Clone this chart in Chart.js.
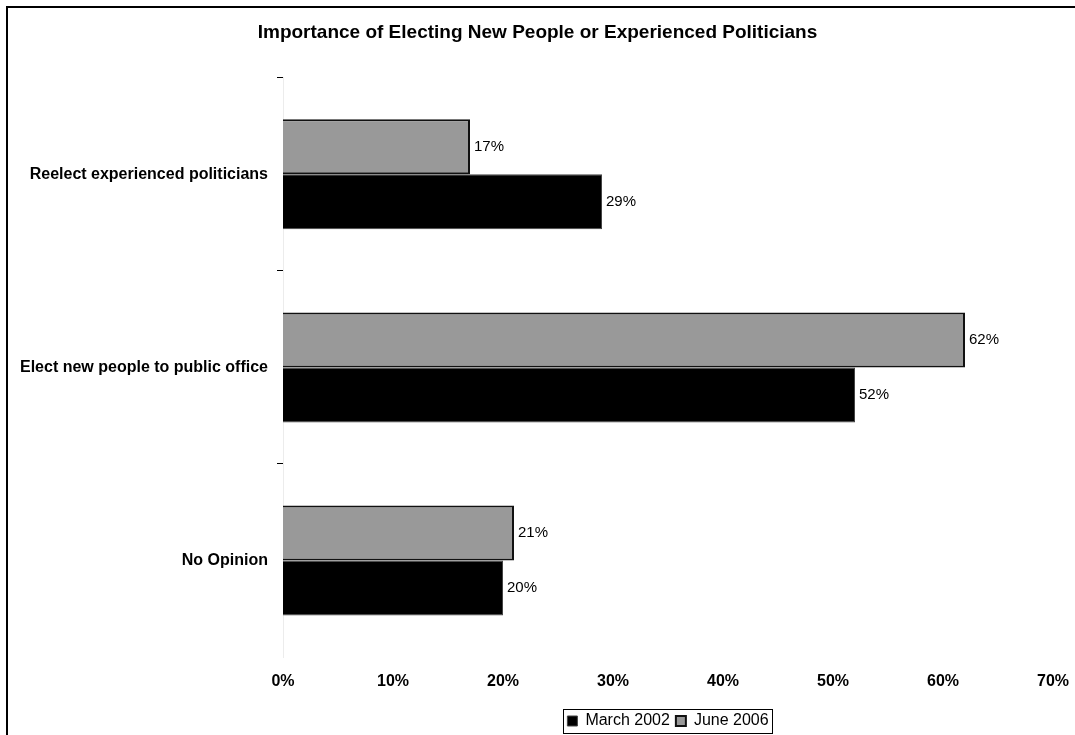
<!DOCTYPE html>
<html>
<head>
<meta charset="utf-8">
<script src="https://cdn.jsdelivr.net/npm/chart.js@4/dist/chart.umd.min.js"></script>
<style>
  html, body { margin: 0; padding: 0; background: #fff; overflow: hidden; }
  #wrap { position: relative; width: 1075px; height: 739px; }
</style>
</head>
<body>
<div id="wrap"><canvas id="chart"></canvas></div>
<script>
// Data
const categories = ['Reelect experienced politicians', 'Elect new people to public office', 'No Opinion'];
const march2002 = [29, 52, 20];
const june2006 = [17, 62, 21];
const xTicks = [0, 10, 20, 30, 40, 50, 60, 70];

const FONT = 'Liberation Sans, Arial, Helvetica, sans-serif';

// white page + frame lines on top and left
const framePlugin = {
    id: 'frame',
    beforeDraw(chart) {
        const ctx = chart.ctx;
        ctx.save();
        ctx.fillStyle = '#fff';
        ctx.fillRect(0, 0, chart.width, chart.height);
        ctx.fillStyle = '#000';
        ctx.fillRect(6, 6, chart.width, 2);
        ctx.fillRect(6, 6, 2, chart.height);
        ctx.restore();
    },
    afterDraw(chart) {
        // box round the legend
        const boxes = chart.legend.legendHitBoxes;
        if (!boxes || !boxes.length) return;
        const left = Math.min(...boxes.map(b => b.left)) - 4;
        const right = Math.max(...boxes.map(b => b.left + b.width)) + 4;
        const top = boxes[0].top - 4;
        const bottom = boxes[0].top + boxes[0].height + 4;
        const ctx = chart.ctx;
        ctx.save();
        ctx.strokeStyle = '#000';
        ctx.lineWidth = 1;
        ctx.strokeRect(Math.round(left) + 0.5, Math.round(top) + 0.5, Math.round(right - left), Math.round(bottom - top));
        ctx.restore();
    }
};

// value labels at the end of each bar
const valueLabels = {
    id: 'valueLabels',
    afterDatasetsDraw(chart) {
        const ctx = chart.ctx;
        ctx.save();
        ctx.font = '15px ' + FONT;
        ctx.fillStyle = '#000';
        ctx.textAlign = 'left';
        ctx.textBaseline = 'middle';
        chart.data.datasets.forEach((ds, i) => {
            chart.getDatasetMeta(i).data.forEach((bar, j) => {
                ctx.fillText(ds.data[j] + '%', bar.x + 4, bar.y);
            });
        });
        ctx.restore();
    }
};

const ctx = document.getElementById('chart').getContext('2d');
new Chart(ctx, {
    type: 'bar',
    data: {
        labels: categories,
        datasets: [
            {
                label: 'June 2006',
                data: june2006,
                backgroundColor: '#999999',
                borderColor: '#111',
                borderWidth: 2,
                barPercentage: 1,
                categoryPercentage: 0.57
            },
            {
                label: 'March 2002',
                data: march2002,
                backgroundColor: '#000000',
                borderColor: '#444',
                borderWidth: 1,
                barPercentage: 1,
                categoryPercentage: 0.57
            }
        ]
    },
    options: {
        indexAxis: 'y',
        responsive: true,
        maintainAspectRatio: false,
        animation: false,
        layout: { padding: 0 },
        plugins: {
            title: {
                display: true,
                text: 'Importance of Electing New People or Experienced Politicians',
                color: '#000',
                font: { family: FONT, size: 19, weight: 'bold' },
                padding: { top: 21, bottom: 34 }
            },
            legend: {
                position: 'bottom',
                fullSize: false,
                reverse: true,
                labels: {
                    color: '#000',
                    font: { family: FONT, size: 16 },
                    boxWidth: 10,
                    boxHeight: 10,
                    padding: 6
                }
            },
            tooltip: { enabled: false }
        },
        scales: {
            x: {
                min: 0,
                max: 70,
                afterBuildTicks: (scale) => {
                    scale.ticks = xTicks.map(v => ({ value: v }));
                },
                afterFit: (scale) => {
                    scale.height = 50;
                    scale.paddingLeft = 0;
                    scale.paddingRight = 22;
                },
                grid: { display: false, drawTicks: false },
                border: { display: false },
                ticks: {
                    color: '#000',
                    padding: 15,
                    font: { family: FONT, size: 16, weight: 'bold' },
                    callback: (v) => v + '%'
                }
            },
            y: {
                afterFit: (scale) => { scale.width = 283; },
                grid: {
                    display: true,
                    drawOnChartArea: false,
                    drawTicks: true,
                    tickLength: 6,
                    // no tick mark at the very bottom, as in the original
                    color: (c) => (c.index === undefined || c.index >= categories.length) ? 'rgba(0,0,0,0)' : '#000',
                    offset: true
                },
                border: { display: true, color: '#ececec', width: 1 },
                ticks: {
                    color: '#000',
                    padding: 9,
                    font: { family: FONT, size: 16, weight: 'bold' }
                }
            }
        }
    },
    plugins: [framePlugin, valueLabels]
});
</script>
</body>
</html>
